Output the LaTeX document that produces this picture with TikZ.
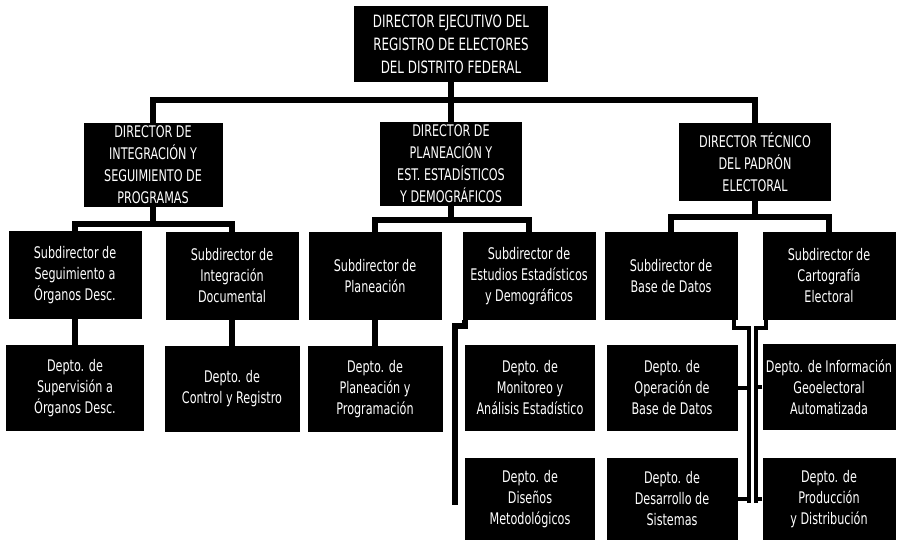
\documentclass[tikz,border=0pt]{standalone}
\usepackage{fontspec}
\setmainfont{DejaVu Sans}[FakeStretch=0.7]
\begin{document}
\begin{tikzpicture}[x=1pt,y=-1pt,
    every node/.style={fill=black,text=white,align=center,inner sep=0,font=\fontsize{16}{21}\selectfont},
    dirbox/.style={minimum width=142,minimum height=84,font=\fontsize{16}{22}\selectfont},
    subbox/.style={minimum width=133,minimum height=88},
    deptbox/.style={minimum width=133,minimum height=86},
    link/.style={line width=6pt},
    thinlink/.style={line width=4pt}]
    \useasboundingbox (0,0) rectangle (898,542);
        \node[minimum width=194,minimum height=76,font=\fontsize{17}{23}\selectfont] (top) at (451,44)
              {DIRECTOR EJECUTIVO DEL\\REGISTRO DE ELECTORES\\DEL DISTRITO FEDERAL};
        % directores
        \node[dirbox,minimum width=139] (dirA) at (153,165) {DIRECTOR DE\\INTEGRACIÓN Y\\SEGUIMIENTO DE\\PROGRAMAS};
        \node[dirbox] (dirB) at (451,164) {DIRECTOR DE\\PLANEACIÓN Y\\EST. ESTADÍSTICOS\\Y DEMOGRÁFICOS};
        \node[dirbox,minimum width=152,minimum height=78] (dirC) at (755,162) {DIRECTOR TÉCNICO\\DEL PADRÓN\\ELECTORAL};
        % subdirectores
        \node[subbox] (subA1) at (75,275) {Subdirector de\\Seguimiento a\\Órganos Desc.};
        \node[subbox] (subA2) at (232,276) {Subdirector de\\Integración\\Documental};
        \node[subbox] (subB1) at (375,276) {Subdirector de\\Planeación};
        \node[subbox] (subB2) at (529,276) {Subdirector de\\Estudios Estadísticos\\y Demográficos};
        \node[subbox] (subC1) at (671,276) {Subdirector de\\Base de Datos};
        \node[subbox] (subC2) at (829,276) {Subdirector de\\Cartografía\\Electoral};
        % departamentos
        \node[deptbox,minimum width=138] (deptA1) at (75,388) {Depto. de\\Supervisión a\\Órganos Desc.};
        \node[deptbox,minimum width=135] (deptA2) at (232,389) {Depto. de\\Control y Registro};
        \node[deptbox,minimum width=135] (deptB1) at (375,389) {Depto. de\\Planeación y\\Programación};
        \node[deptbox,minimum width=130] (deptB2a) at (530,388) {Depto. de\\Monitoreo y\\Análisis Estadístico};
        \node[deptbox,minimum width=131] (deptC1a) at (672,388) {Depto. de\\Operación de\\Base de Datos};
        \node[deptbox] (deptC2a) at (829,387) {Depto. de Información\\Geoelectoral\\Automatizada};
        \node[deptbox,minimum width=130,minimum height=82] (deptB2b) at (530,499) {Depto. de\\Diseños\\Metodológicos};
        \node[deptbox,minimum width=131,minimum height=82] (deptC1b) at (672,499) {Depto. de\\Desarrollo de\\Sistemas};
        \node[deptbox,minimum height=82] (deptC2b) at (829,499) {Depto. de\\Producción\\y Distribución};

        \coordinate (busT) at (451,100);
        \coordinate (busA) at (153,224);
        \coordinate (busB) at (451,220);
        \coordinate (busC) at (755,217);
        \coordinate (endB) at (455,505);
        \coordinate (endC1) at (749,503);
        \coordinate (endC2) at (756,503);

    \draw[link] (top) -- (dirB);
    \draw[link] (dirA.north) |- (busT) -| (dirC.north);
    \draw[link] (dirA) -- (busA) (subA1.north) |- (busA) -| (subA2.north);
    \draw[link] (dirB) -- (busB) (subB1.north) |- (busB) -| (subB2.north);
    \draw[link] (dirC) -- (busC) (subC1.north) |- (busC) -| (subC2.north);
    \draw[link] (subA1) -- (deptA1) (subA2) -- (deptA2) (subB1) -- (deptB1);
    \draw[link] ([xshift=3pt]subB2.south west) -- ++(0,6) -| (endB);
    \draw[thinlink] ([xshift=-4pt]subC1.south east) -- ++(0,8) -| (endC1);
    \draw[thinlink] ([xshift=4pt]subC2.south west) -- ++(0,8) -| (endC2);
    \draw[thinlink] (deptC1a.east) -- (deptC1a.east -| endC1) (deptC1b.east) -- (deptC1b.east -| endC1);
    \draw[thinlink] (deptC2a.west) -- (deptC2a.west -| endC2) (deptC2b.west) -- (deptC2b.west -| endC2);
    \end{tikzpicture}
\end{document}
